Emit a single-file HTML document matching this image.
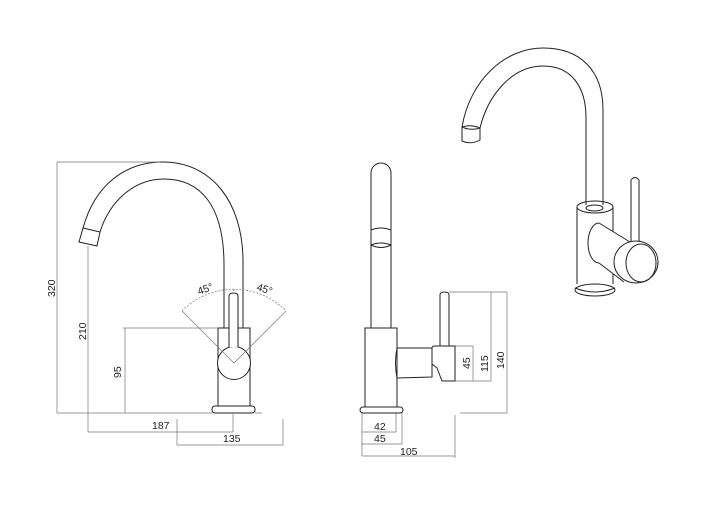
<!DOCTYPE html>
<html><head><style>
html,body{margin:0;padding:0;background:#fff;width:702px;height:523px;overflow:hidden}
svg{display:block}
text{font-family:"Liberation Sans",sans-serif;font-size:10.5px;fill:#222}
</style></head><body>
<svg width="702" height="523" viewBox="0 0 702 523">
<g fill="none" stroke="#222" stroke-width="1">
<path d="M83,228 C95,185 125,162 163,162 C210,162 243,200 243,262 L243,328"/>
<path d="M100,232 C110,200 135,179 164,179 C200,179 224,205 224,265 L224,328"/>
<path d="M83,228 L100,232 L97,246 L79,242 Z"/>
<rect x="218" y="328" width="32" height="78"/>
<rect x="212" y="406" width="43" height="7" rx="3"/>
<circle cx="234" cy="363" r="16.5" fill="#fff"/>
<path d="M229,347 L229,296 Q229,293 233.5,293 Q238,293 238,296 L238,347" fill="#fff"/>
</g>
<g fill="none" stroke="#777" stroke-width="0.7">
<path d="M182,311 L234,363 L286,311"/>
<path d="M182,311 A73,73 0 0 1 286,311" stroke-dasharray="2,1.5"/>
<path d="M234,289 L234,296" stroke-dasharray="2,1.5"/>
<path d="M57,162 L160,162 M57,162 L57,413 M57,413 L212,413 M255,413 L262,413"/>
<path d="M88,246 L88,432 M88,432 L233,432 M233,413 L233,432"/>
<path d="M123,328 L218,328 M125,328 L125,413"/>
<path d="M177,419 L177,445 M177,445 L283,445 M283,419 L283,445"/>
<path d="M455,346 L473,346 M455,381 L473,381 M473,346 L473,381"/>
<path d="M449,292 L507,292 M491,292 L491,381 M473,381 L491,381"/>
<path d="M507,292 L507,413 M460,413 L507,413"/>
<path d="M362,413 L362,456 M396,413 L396,432 M362,432 L396,432 M361,444 L402,444 M402,413 L402,444 M362,456 L455,456 M455,415 L455,458"/>
</g>
<text x="0" y="0" transform="translate(55,297) rotate(-90)">320</text>
<text x="0" y="0" transform="translate(86,340) rotate(-90)">210</text>
<text x="0" y="0" transform="translate(121,378) rotate(-90)">95</text>
<text x="152" y="429">187</text>
<text x="223" y="442">135</text>
<text x="0" y="0" transform="translate(199,295) rotate(-20)">45°</text>
<text x="0" y="0" transform="translate(256,290) rotate(18)">45°</text>
<g fill="none" stroke="#222" stroke-width="1">
<path d="M371,328 L371,173 A10,10 0 0 1 391,173 L391,328"/>
<path d="M371,230 Q381,226 391,230 M371,245 Q381,241 391,245 M371,245 Q381,250 391,245"/>
<rect x="365" y="328" width="32" height="79"/>
<rect x="360" y="407" width="43" height="6" rx="3"/>
<path d="M397,348 L432,348 L432,377 L397,378 Q394,363 397,348 Z"/>
<path d="M440,346 L440,295 Q440,292 444.5,292 Q449,292 449,295 L449,346"/>
<path d="M432,348 Q432,346 435,346 L455,346 L455,381 L442,381 L437,368 L432,364 Z"/>
</g>
<text x="0" y="0" transform="translate(470,369) rotate(-90)">45</text>
<text x="0" y="0" transform="translate(488,372) rotate(-90)">115</text>
<text x="0" y="0" transform="translate(504,369) rotate(-90)">140</text>
<text x="374" y="430">42</text>
<text x="374" y="442">45</text>
<text x="400" y="455">105</text>
<g fill="none" stroke="#222" stroke-width="1">
<path d="M462,127 C470,80 505,48 543,48 C580,48 603,70 603,110 L603,205"/>
<path d="M480,128 C488,95 512,66 543,66 C570,66 586,85 586,118 L586,205"/>
<path d="M462,127 Q471,124 480,128 L480,140 Q471,145 462,141 Z M462,127 Q471,131 480,128"/>
<path d="M577,207 L577,284 M613,207 L613,284"/>
<ellipse cx="595" cy="207" rx="18" ry="6"/>
<ellipse cx="594.5" cy="208" rx="8.5" ry="3"/>
<ellipse cx="595" cy="290" rx="20" ry="6"/>
<path d="M575,288 Q595,296 615,288"/>
<path d="M599,223 L630,242 L624,282 L599,263 Z" fill="#fff" stroke="none"/>
<path d="M599,223 A11,20 0 0 0 599,263"/>
<path d="M599,223 L630,242 M599,263 L624,282"/>
<ellipse cx="636" cy="262" rx="22" ry="21" fill="#fff"/>
<ellipse cx="641" cy="263" rx="15" ry="19"/>
<path d="M631,241 L631,180 Q635,175 639,180 L639,242"/>
</g>
</svg>
</body></html>
